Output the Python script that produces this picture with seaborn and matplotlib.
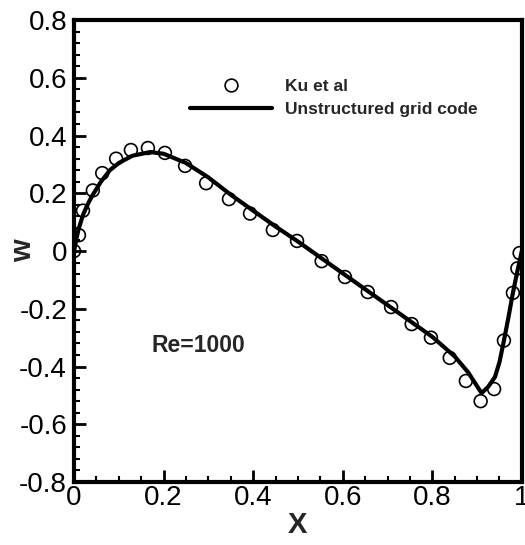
import matplotlib
matplotlib.use("Agg")
import matplotlib.pyplot as plt
import numpy as np
import pandas as pd
import seaborn as sns
from matplotlib.ticker import MultipleLocator, FuncFormatter
from matplotlib.lines import Line2D

# Ku et al reference points (x, w)
ku_x = [0.0, 0.011, 0.02, 0.042, 0.063, 0.094, 0.127, 0.165, 0.203, 0.248,
        0.295, 0.346, 0.393, 0.444, 0.498, 0.553, 0.605, 0.656, 0.708, 0.754,
        0.797, 0.839, 0.875, 0.908, 0.938, 0.96, 0.98, 0.99, 0.995]
ku_w = [0.0, 0.055, 0.14, 0.21, 0.27, 0.32, 0.35, 0.357, 0.34, 0.295,
        0.235, 0.18, 0.13, 0.073, 0.035, -0.035, -0.09, -0.142, -0.194, -0.253,
        -0.30, -0.37, -0.45, -0.52, -0.478, -0.31, -0.145, -0.06, -0.007]

# unstructured grid code solution
code_x = [0.0, 0.005, 0.01, 0.02, 0.03, 0.04, 0.06, 0.08, 0.1, 0.13, 0.17, 0.2,
          0.25, 0.3, 0.35, 0.4, 0.45, 0.5, 0.55, 0.6, 0.65, 0.7, 0.75, 0.8,
          0.85, 0.88, 0.91, 0.925, 0.94, 0.95, 0.96, 0.97, 0.98, 0.99, 1.0]
code_w = [0.0, 0.04, 0.075, 0.125, 0.16, 0.19, 0.24, 0.28, 0.305, 0.33, 0.343, 0.337,
          0.305, 0.255, 0.195, 0.14, 0.085, 0.033, -0.022, -0.077, -0.132, -0.187, -0.242, -0.297,
          -0.365, -0.42, -0.492, -0.47, -0.436, -0.385, -0.31, -0.23, -0.145, -0.07, 0.0]

ku = pd.DataFrame({"X": ku_x, "w": ku_w})
code = pd.DataFrame({"X": code_x, "w": code_w})

sns.set_style("ticks")
plt.rcParams["font.family"] = ["Liberation Sans", "DejaVu Sans"]
plt.rcParams["axes.unicode_minus"] = False

fig = plt.figure(figsize=(5.25, 5.45), dpi=100)
ax = fig.add_axes([0.141, 0.1156, 0.853, 0.8475])

sns.scatterplot(x="X", y="w", data=ku, ax=ax, marker="o", s=85,
                facecolor="none", edgecolor="black", linewidth=1.2, zorder=2)
sns.lineplot(x="X", y="w", data=code, ax=ax, color="black", linewidth=3,
             sort=False, estimator=None, zorder=3)

ax.set_xlim(0, 1)
ax.set_ylim(-0.8, 0.8)
ax.xaxis.set_major_locator(MultipleLocator(0.2))
ax.xaxis.set_minor_locator(MultipleLocator(0.05))
ax.yaxis.set_major_locator(MultipleLocator(0.2))
ax.yaxis.set_minor_locator(MultipleLocator(0.04))
fmt = FuncFormatter(lambda v, p: f"{round(v, 2):g}")
ax.xaxis.set_major_formatter(fmt)
ax.yaxis.set_major_formatter(fmt)

for s in ax.spines.values():
    s.set_linewidth(3)
    s.set_color("black")
ax.tick_params(which="both", direction="in", top=False, right=False, colors="black")
ax.tick_params(which="major", length=8.5, width=2, labelsize=20, pad=5)
ax.tick_params(which="minor", length=4.3, width=1.5)
ax.tick_params(axis="x", which="major", pad=2)

ax.set_xlabel("X", fontsize=21, fontweight="bold", labelpad=0)
ax.set_ylabel("w", fontsize=21, fontweight="bold")
ax.yaxis.set_label_coords(-0.083, 0.5)

ax.text(0.174, 0.295, "Re=1000", transform=ax.transAxes, fontsize=16.5,
        fontweight="bold", va="center", ha="left")

handles = [
    Line2D([], [], marker="o", linestyle="none", markerfacecolor="none",
           markeredgecolor="black", markersize=9.2, markeredgewidth=1.2),
    Line2D([], [], color="black", linewidth=3),
]
ax.legend(handles, ["Ku et al", "Unstructured grid code"], loc="upper left",
          bbox_to_anchor=(0.259, 0.872), frameon=False, borderpad=0,
          borderaxespad=0, handlelength=4.7, handletextpad=0.8,
          labelspacing=0.45, prop={"size": 12.5, "weight": "bold"})

fig.savefig("out.png", dpi=100)
